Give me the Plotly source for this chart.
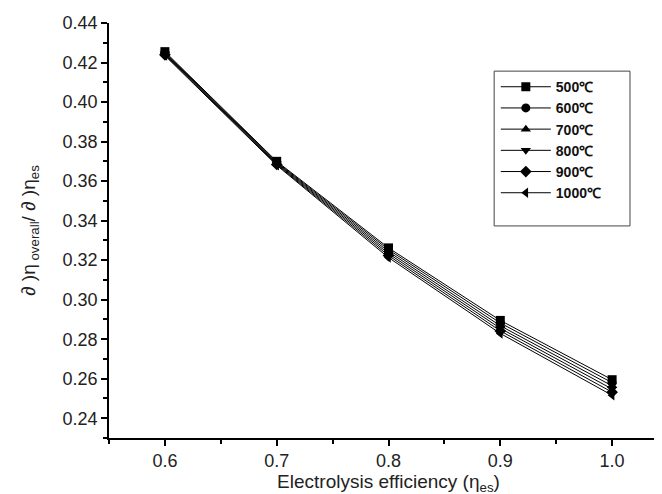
import plotly.graph_objects as go

efficiency = [0.6, 0.7, 0.8, 0.9, 1.0]
series_names = ["500℃", "600℃", "700℃", "800℃", "900℃", "1000℃"]
values_500 = [0.4255, 0.3700, 0.3262, 0.2895, 0.2595]
values_600 = [0.4251, 0.3696, 0.3253, 0.2882, 0.2580]
values_700 = [0.4247, 0.3692, 0.3243, 0.2868, 0.2564]
values_800 = [0.4243, 0.3688, 0.3233, 0.2855, 0.2548]
values_900 = [0.4239, 0.3684, 0.3223, 0.2842, 0.2532]
values_1000 = [0.4235, 0.3680, 0.3213, 0.2829, 0.2516]
all_values = [values_500, values_600, values_700, values_800, values_900, values_1000]
symbols = ["square", "circle", "triangle-up", "triangle-down", "diamond", "triangle-left"]

fig = go.Figure()
for name, vals, sym in zip(series_names, all_values, symbols):
    fig.add_trace(go.Scatter(
        x=efficiency, y=vals, name=name, mode="lines+markers",
        line=dict(color="black", width=1),
        marker=dict(symbol=sym, size=9, color="black"),
    ))

font_family = "Liberation Sans, Arial, sans-serif"
fig.update_layout(
    width=662, height=494,
    margin=dict(l=101, r=2, t=15, b=64),
    paper_bgcolor="white", plot_bgcolor="white",
    font=dict(family=font_family, color="#222222", size=18),
    showlegend=True,
    legend=dict(
        x=0.692, y=0.884, xanchor="left", yanchor="top",
        borderwidth=0, bgcolor="rgba(0,0,0,0)",
        font=dict(family=font_family, size=14, color="#111111", weight="bold"),
        tracegroupgap=0, itemwidth=50,
    ),
    shapes=[dict(
        type="rect", xref="paper", yref="paper",
        x0=0.689, x1=0.932, y0=0.511, y1=0.884,
        line=dict(color="#444444", width=1), fillcolor="rgba(0,0,0,0)", layer="below",
    )],
    xaxis=dict(
        range=[0.55, 1.05], tickvals=efficiency, ticktext=["0.6", "0.7", "0.8", "0.9", "1.0"],
        showline=True, linecolor="black", linewidth=1.5, mirror=False,
        ticks="outside", ticklen=6, tickwidth=1.5, tickcolor="black",
        minor=dict(dtick=0.05, tick0=0.55, ticks="outside", ticklen=4, tickwidth=1.5, tickcolor="black"),
        showgrid=False, zeroline=False,
        tickfont=dict(size=18, color="#222222"),
        title=dict(text="Electrolysis efficiency (η<sub>es</sub>)", font=dict(size=19, color="#222222"), standoff=3),
    ),
    yaxis=dict(
        range=[0.23, 0.44], tick0=0.24, dtick=0.02, tickformat=".2f",
        showline=True, linecolor="black", linewidth=1.5, mirror=False,
        ticks="outside", ticklen=6, tickwidth=1.5, tickcolor="black",
        minor=dict(dtick=0.01, tick0=0.23, ticks="outside", ticklen=4, tickwidth=1.5, tickcolor="black"),
        showgrid=False, zeroline=False,
        tickfont=dict(size=18, color="#222222"),
        title=dict(text="∂ )η<sub> overall</sub>/ ∂ )η<sub>es</sub>", font=dict(size=19, color="#222222"), standoff=22),
    ),
)

fig.write_html("out.html")
